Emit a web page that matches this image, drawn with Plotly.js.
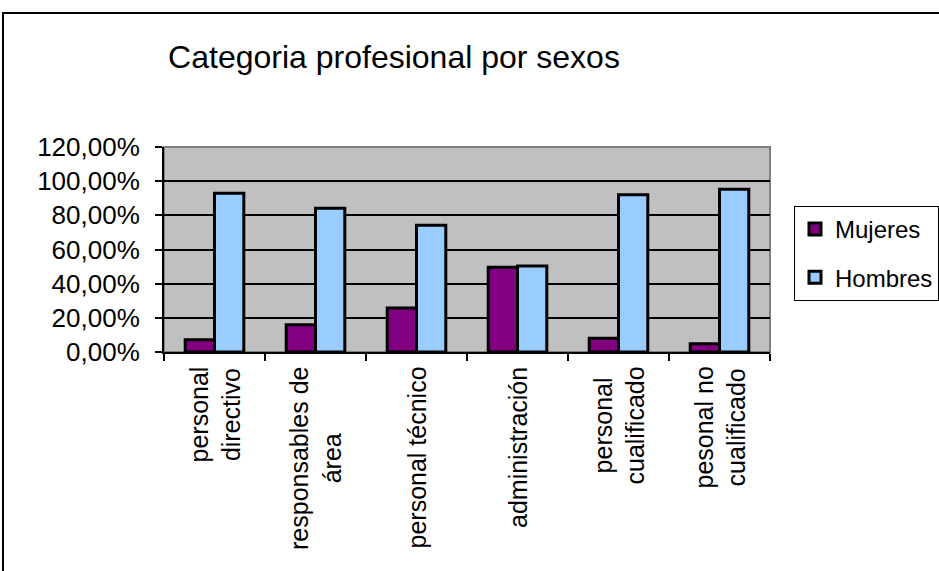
<!DOCTYPE html>
<html>
<head>
<meta charset="utf-8">
<script src="https://cdn.plot.ly/plotly-3.0.1.min.js"></script>
<style>
  html, body { margin: 0; padding: 0; background: #fff; }
  #grafico { width: 939px; height: 571px; }
</style>
</head>
<body>
<div id="grafico"></div>
<script>
// Categorías y valores (proporción sobre 1)
const categorias = [
  'personal<br>directivo',
  'responsables de<br>área',
  'personal técnico',
  'administración',
  'personal<br>cualificado',
  'pesonal no<br>cualificado'
];
const mujeres = [0.071, 0.159, 0.258, 0.496, 0.080, 0.048];
const hombres = [0.929, 0.841, 0.742, 0.504, 0.920, 0.952];

const FUENTE = '"Liberation Sans", Arial, sans-serif';

const trazaMujeres = {
  x: categorias, y: mujeres, name: 'Mujeres', legendgroup: 'm',
  type: 'bar', marker: { color: '#800080', line: { color: '#000', width: 3 } },
  hovertemplate: '%{x}<br>Mujeres: %{y:.2%}<extra></extra>'
};
const trazaHombres = {
  x: categorias, y: hombres, name: 'Hombres', legendgroup: 'h',
  type: 'bar', marker: { color: '#99CCFF', line: { color: '#000', width: 3 } },
  hovertemplate: '%{x}<br>Hombres: %{y:.2%}<extra></extra>'
};

// etiquetas de categoría giradas y centradas (como en Excel)
const etiquetas = categorias.map(c => ({
  x: c, xref: 'x', y: 0, yref: 'paper',
  text: c, textangle: -90, showarrow: false,
  xanchor: 'center', yanchor: 'top', yshift: -13, align: 'center',
  font: { size: 25, family: FUENTE, color: '#000' }
}));

const layout = {
  width: 939, height: 571,
  font: { family: FUENTE, color: '#000' },
  separators: ', ',
  title: {
    text: 'Categoria profesional por sexos',
    font: { size: 32, family: FUENTE, color: '#000' },
    x: 394 / 939, xanchor: 'center', xref: 'container',
    y: 1 - 57 / 571, yanchor: 'middle', yref: 'container'
  },
  barmode: 'group', bargap: 0.42, bargroupgap: 0,
  margin: { l: 164, r: 169, t: 147, b: 219 },
  xaxis: {
    type: 'category', showticklabels: false,
    showline: true, linecolor: '#000', linewidth: 2,
    ticks: 'outside', tickson: 'boundaries', ticklen: 7, tickwidth: 2, tickcolor: '#000',
    showgrid: false
  },
  yaxis: {
    range: [0, 1.2], dtick: 0.2, tickformat: '.2%',
    tickfont: { size: 26 }, ticklabelstandoff: 10,
    showline: true, linecolor: '#000', linewidth: 2,
    ticks: 'outside', ticklen: 7, tickwidth: 2, tickcolor: '#000',
    showgrid: true, gridcolor: '#000', gridwidth: 1.5,
    zeroline: false
  },
  legend: {
    x: 794 / 939, xref: 'container', xanchor: 'left',
    y: 1 - 206 / 571, yref: 'container', yanchor: 'top',
    bgcolor: '#fff', bordercolor: '#000', borderwidth: 1,
    font: { size: 24, family: FUENTE, color: '#000' },
    traceorder: 'grouped', tracegroupgap: 14, itemwidth: 30
  },
  annotations: etiquetas,
  shapes: [
    // borde gris del área de trazado
    { type: 'rect', xref: 'x domain', yref: 'y domain', x0: 0, x1: 1, y0: 0, y1: 1,
      line: { color: '#808080', width: 2 }, layer: 'below' },
    // marco exterior del gráfico
    { type: 'rect', xref: 'paper', yref: 'paper',
      x0: (3 - 164) / 606, x1: 2, y0: -2, y1: (352 - 13) / 205,
      line: { color: '#000', width: 2 } }
  ],
  plot_bgcolor: '#C0C0C0', paper_bgcolor: '#fff'
};

Plotly.newPlot('grafico', [trazaMujeres, trazaHombres], layout, { displayModeBar: false });
</script>
</body>
</html>
